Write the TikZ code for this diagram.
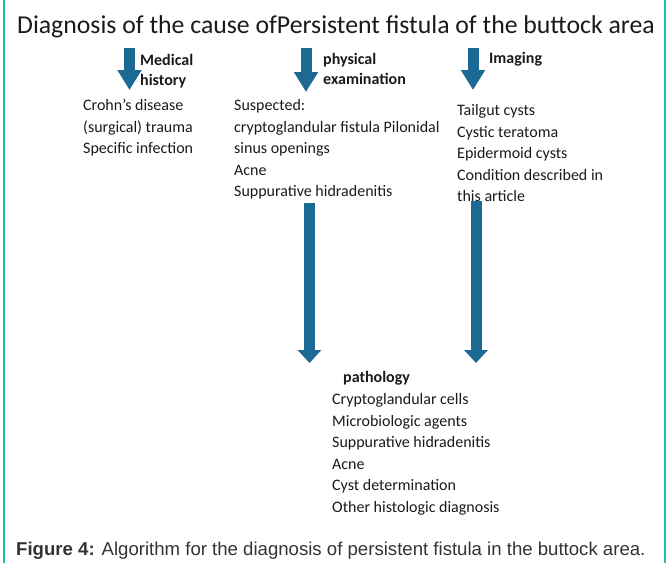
\documentclass[tikz,border=0pt]{standalone}
\usepackage{fontspec}
\setmainfont{Carlito}
\newfontfamily\captionfont{Liberation Sans}
\usepackage{tikz}
\usetikzlibrary{arrows.meta}
\definecolor{arrowblue}{HTML}{1C6A94}
\definecolor{frameteal}{HTML}{1CC2A4}
\definecolor{textdark}{HTML}{1A1A1A}
\definecolor{captiongrey}{HTML}{333333}

\tikzset{
	fatarrow/.style={draw=arrowblue, line width=11pt, -{Triangle[width=23pt,length=#1]}},
	fatarrow/.default=20pt,
	itemlist/.style={anchor=base west, inner sep=0pt, align=left, text=textdark, font=\fontsize{16}{21.6}\selectfont},
	routelabel/.style={anchor=base west, inner sep=0pt, align=left, text=textdark, font=\bfseries\fontsize{16}{20}\selectfont},
}

\begin{document}
\begin{tikzpicture}[x=1pt, y=-1pt]
	\useasboundingbox (0,0) rectangle (667,563);
	\draw[frameteal, line width=2pt] (4,0) -- (4,563);
	\draw[frameteal, line width=2pt] (665,0) -- (665,563);

	\node[anchor=base, inner sep=0pt, text=textdark, font=\fontsize{25.75}{30}\selectfont] (title) at (336,33)
		{Diagnosis of the cause ofPersistent fistula of the buttock area};

	% three ways in
	\coordinate (historytop) at (129.5,48);
	\coordinate (historytip) at (129.5,90);
	\coordinate (examtop) at (306,48);
	\coordinate (examtip) at (306,92);
	\coordinate (imagingtop) at (473,48);
	\coordinate (imagingtip) at (473,90);
	\draw[fatarrow] (historytop) -- (historytip);
	\draw[fatarrow] (examtop) -- (examtip);
	\draw[fatarrow] (imagingtop) -- (imagingtip);

	% nodes sit on the baseline of their last line
	\node[routelabel] (historylabel) at (140,85) {Medical\\history};
	\node[routelabel] (examlabel) at (323,84) {physical\\examination};
	\node[routelabel] (imaginglabel) at (489,63) {Imaging};

	\node[itemlist] (history) at (83,153.7)
		{Crohn’s disease\\(surgical) trauma\\Specific infection};
	\node[itemlist] (exam) at (234,196.9)
		{Suspected:\\cryptoglandular fistula Pilonidal\\sinus openings\\Acne\\Suppurative hidradenitis};
	\node[itemlist] (imaging) at (457,201.9)
		{Tailgut cysts\\Cystic teratoma\\Epidermoid cysts\\Condition described in\\this article};

	% on to pathology
	\coordinate (examout) at (309.5,203);
	\coordinate (examin) at (309.5,363);
	\coordinate (imagingout) at (476,201);
	\coordinate (imagingin) at (476,363);
	\draw[fatarrow=13pt] (examout) -- (examin);
	\draw[fatarrow=13pt] (imagingout) -- (imagingin);

	\node[routelabel] (pathologylabel) at (343,382.5) {pathology};
	\node[itemlist] (pathology) at (332,512.5)
		{Cryptoglandular cells\\Microbiologic agents\\Suppurative hidradenitis\\Acne\\Cyst determination\\Other histologic diagnosis};

	\node[anchor=base west, inner sep=0pt, text=captiongrey, font=\captionfont\fontsize{18.6}{22}\selectfont] (caption) at (16,555)
		{\textbf{Figure 4:} Algorithm for the diagnosis of persistent fistula in the buttock area.};
\end{tikzpicture}
\end{document}
